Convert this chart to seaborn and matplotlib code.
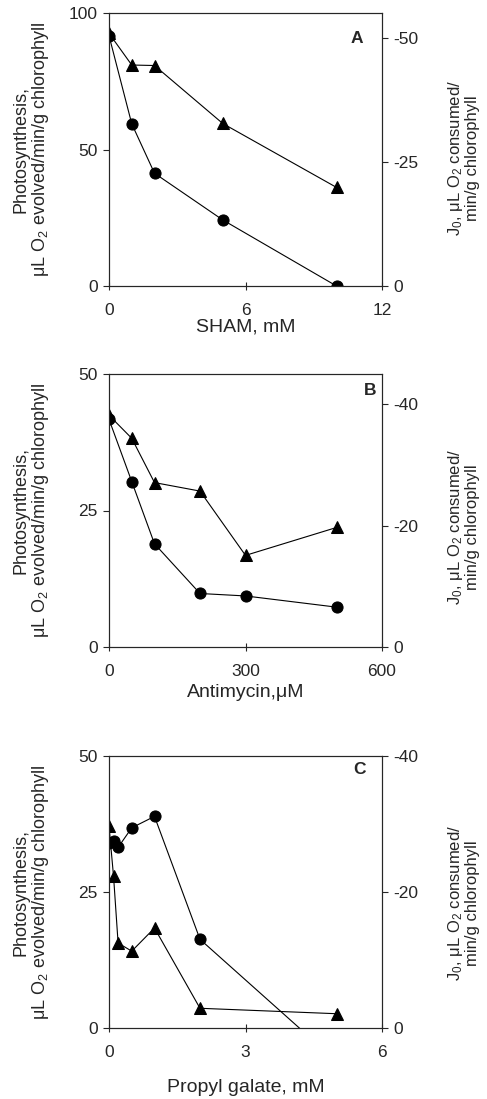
import matplotlib
matplotlib.use("Agg")
import matplotlib.pyplot as plt
import seaborn as sns

# Panel A - SHAM
sham = [0, 1, 2, 5, 10]
sham_photo = [91.7, 59.4, 41.3, 24.2, 0]
sham_j0 = [-51.0, -44.6, -44.5, -32.8, -19.9]

# Panel B - Antimycin
antimycin = [0, 50, 100, 200, 300, 500]
anti_photo = [41.7, 30.3, 18.9, 9.8, 9.35, 7.3]
anti_j0 = [-38.2, -34.4, -27.1, -25.7, -15.1, -19.7]

# Panel C - Propyl galate
propyl = [0, 0.1, 0.2, 0.5, 1, 2, 5]
prop_photo = [34.0, 34.4, 33.2, 36.8, 38.9, 16.3, -6.1]
prop_j0 = [-29.7, -22.3, -12.5, -11.3, -14.7, -2.9, -2.1]

sns.set_style("ticks")
plt.rcParams['font.family'] = ['Liberation Sans', 'DejaVu Sans']
plt.rcParams['mathtext.default'] = 'regular'
plt.rcParams['axes.unicode_minus'] = False
plt.rcParams['axes.linewidth'] = 0.8

left_label = "Photosynthesis,\n\u03bcL O$_2$ evolved/min/g chlorophyll"
right_label = "J$_0$, \u03bcL O$_2$ consumed/\nmin/g chlorophyll"

W, H = 487, 1099
fig = plt.figure(figsize=(W / 100, H / 100), dpi=100)


def make_axes(top, bottom):
    return fig.add_axes([109 / W, 1 - bottom / H, 273 / W, (bottom - top) / H])


panels = [
    dict(top=13, bottom=286, x=sham, photo=sham_photo, j0=sham_j0,
         xlim=(0, 12), xticks=[0, 6, 12], ylim=(0, 100), yticks=[0, 50, 100],
         rlim=(0, -55.1), rticks=[0, -25, -50], xlabel="SHAM, mM",
         xlab_y=-0.152, letter="A", lx=0.908, ly=0.908, rlab_y=0.47),
    dict(top=374, bottom=647, x=antimycin, photo=anti_photo, j0=anti_j0,
         xlim=(0, 600), xticks=[0, 300, 600], ylim=(0, 50), yticks=[0, 25, 50],
         rlim=(0, -45), rticks=[0, -20, -40], xlabel="Antimycin,\u03bcM",
         xlab_y=-0.167, letter="B", lx=0.956, ly=0.941, rlab_y=0.44),
    dict(top=756, bottom=1028, x=propyl, photo=prop_photo, j0=prop_j0,
         xlim=(0, 6), xticks=[0, 3, 6], ylim=(0, 50), yticks=[0, 25, 50],
         rlim=(0, -40), rticks=[0, -20, -40], xlabel="Propyl galate, mM",
         xlab_y=-0.217, letter="C", lx=0.916, ly=0.949, rlab_y=0.46),
]

for p in panels:
    ax = make_axes(p['top'], p['bottom'])
    ax2 = ax.twinx()
    sns.lineplot(x=p['x'], y=p['photo'], ax=ax, color='black', linewidth=0.8,
                 marker='o', markersize=8, markeredgecolor='black')
    sns.lineplot(x=p['x'], y=p['j0'], ax=ax2, color='black', linewidth=0.8,
                 marker='^', markersize=8, markeredgecolor='black')
    ax.set_xlim(p['xlim'])
    ax.set_xticks(p['xticks'])
    ax.set_ylim(p['ylim'])
    ax.set_yticks(p['yticks'])
    ax2.set_ylim(p['rlim'])
    ax2.set_yticks(p['rticks'])

    ax.tick_params(axis='x', direction='inout', length=6, width=0.8, labelsize=12.5, pad=9)
    ax.tick_params(axis='y', direction='out', length=4, width=0.8, labelsize=12.5, pad=4)
    ax2.tick_params(axis='y', direction='out', length=4, width=0.8, labelsize=12.5, pad=4)
    for a in (ax, ax2):
        for s in a.spines.values():
            s.set_visible(True)
            s.set_linewidth(0.8)

    ax.set_xlabel(p['xlabel'], fontsize=14, va='center')
    ax.xaxis.set_label_coords(0.5, p['xlab_y'])
    ax.set_ylabel(left_label, fontsize=13, va='center', ha='center', linespacing=1.05)
    ax.yaxis.set_label_coords(-0.282, 0.5)
    ax2.set_ylabel(right_label, fontsize=12, va='center', ha='center', rotation=90, linespacing=1.05)
    ax2.yaxis.set_label_coords(1.297, p['rlab_y'])

    ax.text(p['lx'], p['ly'], p['letter'], transform=ax.transAxes, fontsize=12.5,
            fontweight='bold', ha='center', va='center')

fig.savefig("out.png", dpi=100)
